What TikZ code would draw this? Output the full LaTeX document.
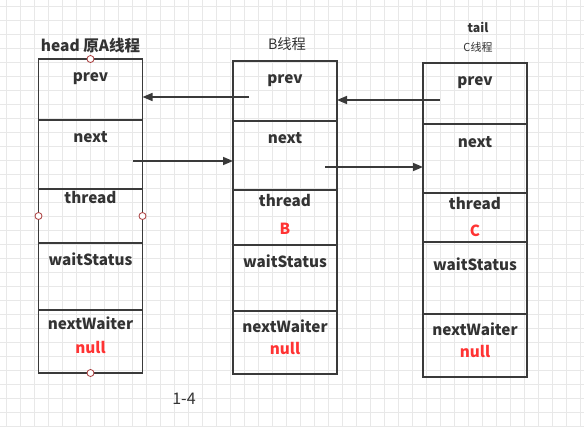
\documentclass[tikz,border=0pt]{standalone}
\usepackage{fontspec}
\setmainfont{Noto Sans CJK SC}
\usetikzlibrary{positioning}
\usetikzlibrary{arrows.meta}
\definecolor{linegray}{HTML}{3A3A3A}
\definecolor{textgray}{HTML}{333333}
\definecolor{nullred}{HTML}{FF3333}
\definecolor{gridgray}{HTML}{E8E8E8}
\definecolor{handlered}{HTML}{A83A3A}
\tikzset{cell/.style={shape=rectangle, draw=linegray, line width=1.5pt,
    minimum width=104pt, inner sep=0pt, outer sep=0pt},
  field/.style={font=\bfseries\fontsize{15.3}{17}\selectfont, text=textgray, inner sep=0pt},
  value/.style={field, text=nullred},
  title/.style={font=\fontsize{14.3}{16}\selectfont, text=textgray, inner sep=0pt},
  handle/.style={shape=circle, draw=handlered, fill=white, line width=0.8pt,
    minimum size=7pt, inner sep=0pt},
  link/.style={draw=linegray, line width=1.5pt, -{Triangle[length=10pt,width=8pt]}},
  gridline/.style={draw=gridgray, line width=0.8pt}}

\begin{document}
\begin{tikzpicture}[x=1pt, y=-1pt]
    \useasboundingbox[fill=white] (0,0) rectangle (584,426);
    \foreach \k in {0,...,41} \draw[gridline] ({6.3+14*\k},0) -- ({6.3+14*\k},426);
    \foreach \k in {0,...,30} \draw[gridline] (0,{6+14*\k}) -- (584,{6+14*\k});

    % node A (head)
    \node[cell, minimum height=61pt, anchor=north] (a1) at (90.5,59) {};
    \node[cell, minimum height=69pt] (a2) [below=0pt of a1] {};
    \node[cell, minimum height=54pt] (a3) [below=0pt of a2] {};
    \node[cell, minimum height=67pt] (a4) [below=0pt of a3] {};
    \node[cell, minimum height=63pt] (a5) [below=0pt of a4] {};

    % node B
    \node[cell, minimum height=60pt, anchor=north] (b1) at (285,61) {};
    \node[cell, minimum height=69pt] (b2) [below=0pt of b1] {};
    \node[cell, minimum height=55pt] (b3) [below=0pt of b2] {};
    \node[cell, minimum height=66pt] (b4) [below=0pt of b3] {};
    \node[cell, minimum height=63pt] (b5) [below=0pt of b4] {};

    % node C (tail)
    \node[cell, minimum height=61pt, anchor=north] (c1) at (475,63) {};
    \node[cell, minimum height=69pt] (c2) [below=0pt of c1] {};
    \node[cell, minimum height=49pt] (c3) [below=0pt of c2] {};
    \node[cell, minimum height=72pt] (c4) [below=0pt of c3] {};
    \node[cell, minimum height=63pt] (c5) [below=0pt of c4] {};

    % field names
    \node[field] (aprev) [below=22pt of a1.north, anchor=base] {prev};
    \node[field] (anext) [below=22pt of a2.north, anchor=base] {next};
    \node[field] (athread) [below=14pt of a3.north, anchor=base] {thread};
    \node[field] (await) [below=22pt of a4.north, anchor=base] {waitStatus};
    \node[field] (awaiter) [below=19pt of a5.north, anchor=base] {nextWaiter};
    \node[value] (anull) [below=43pt of a5.north, anchor=base] {null};

    \node[field] (bprev) [below=22pt of b1.north, anchor=base] {prev};
    \node[field] (bnext) [below=22pt of b2.north, anchor=base] {next};
    \node[field] (bthread) [below=16pt of b3.north, anchor=base] {thread};
    \node[value] (bname) [below=44pt of b3.north, anchor=base] {B};
    \node[field] (bwait) [below=22pt of b4.north, anchor=base] {waitStatus};
    \node[field] (bwaiter) [below=21pt of b5.north, anchor=base] {nextWaiter};
    \node[value] (bnull) [below=43pt of b5.north, anchor=base] {null};

    \node[field] (cprev) [below=22pt of c1.north, anchor=base] {prev};
    \node[field] (cnext) [below=23pt of c2.north, anchor=base] {next};
    \node[field] (cthread) [below=16pt of c3.north, anchor=base] {thread};
    \node[value] (cname) [below=43pt of c3.north, anchor=base] {C};
    \node[field] (cwait) [below=28pt of c4.north, anchor=base] {waitStatus};
    \node[field] (cwaiter) [below=21pt of c5.north, anchor=base] {nextWaiter};
    \node[value] (cnull) [below=43pt of c5.north, anchor=base] {null};

    % captions
    \node[title, font=\bfseries\fontsize{15.5}{17}\selectfont] (ahead) [above=8pt of a1.north, anchor=base] {head 原A线程};
    \node[title] (bhead) [above=11.7pt of b1.north, anchor=base, xshift=2pt] {B线程};
    \node[title, font=\fontsize{11}{13}\selectfont] (chead) [above=12pt of c1.north, anchor=base, xshift=3pt] {C线程};
    \node[title, font=\bfseries\fontsize{12.3}{14}\selectfont] (ctail) [above=31pt of c1.north, anchor=base, xshift=3pt] {tail};
    \node[title, font=\fontsize{16}{18}\selectfont, anchor=base] (fig) at (184,404) {1-4};

    % selection handles on A
    \node[handle] (htop) at (a1.north) {};
    \node[handle] (hleft) at (a1.west |- a3.center) {};
    \node[handle] (hright) at (a1.east |- a3.center) {};
    \node[handle] (hbottom) at (a5.south) {};

    % links
    \coordinate (bback) at (249,97);
    \coordinate (cback) at (440,100);
    \coordinate (afwd) at (133,161);
    \coordinate (bfwd) at (325,167);
    \path
    (bback) edge[link] (bback -| a1.east)
    (cback) edge[link] (cback -| b1.east)
    (afwd) edge[link] (afwd -| b2.west)
    (bfwd) edge[link] (bfwd -| c2.west)
    ;
\end{tikzpicture}
\end{document}
